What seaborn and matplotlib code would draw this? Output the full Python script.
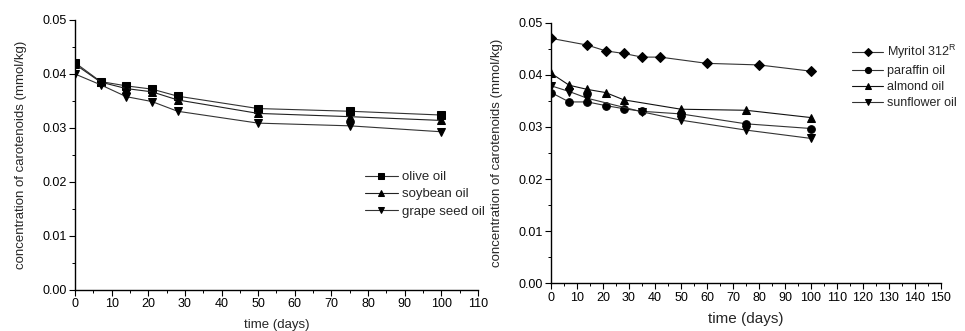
import matplotlib
matplotlib.use("Agg")
import matplotlib.pyplot as plt
import seaborn as sns
import pandas as pd
from matplotlib.ticker import MultipleLocator

sns.set_theme(style="ticks")
plt.rcParams['font.family'] = ['Liberation Sans', 'DejaVu Sans']

# ---- left panel data ----
left_days = [0, 7, 14, 21, 28, 50, 75, 100]
olive_oil = [0.0421, 0.0386, 0.0378, 0.0372, 0.0359, 0.0336, 0.0331, 0.0324]
soybean_oil = [0.0418, 0.0385, 0.0373, 0.0367, 0.0352, 0.0327, 0.0321, 0.0314]
grape_seed_oil = [0.0400, 0.0380, 0.0358, 0.0349, 0.0331, 0.0309, 0.0304, 0.0293]

# ---- right panel data ----
myritol_days = [0, 14, 21, 28, 35, 42, 60, 80, 100]
myritol = [0.0470, 0.0457, 0.0446, 0.0441, 0.0434, 0.0434, 0.0422, 0.0419, 0.0407]
paraffin_days = [0, 7, 14, 21, 28, 35, 50, 75, 100]
paraffin_oil = [0.0366, 0.0348, 0.0348, 0.0341, 0.0335, 0.0330, 0.0325, 0.0306, 0.0297]
almond_days = [0, 7, 14, 21, 28, 50, 75, 100]
almond_oil = [0.0403, 0.0380, 0.0372, 0.0366, 0.0352, 0.0334, 0.0332, 0.0318]
sunflower_days = [0, 7, 14, 35, 50, 75, 100]
sunflower_oil = [0.0379, 0.0368, 0.0355, 0.0329, 0.0313, 0.0294, 0.0278]

fig = plt.figure(figsize=(9.65, 3.31), dpi=100)
axL = fig.add_axes([0.0777, 0.1239, 0.4176, 0.8157])
axR = fig.add_axes([0.571, 0.1441, 0.404, 0.7873])

def draw(ax, days, vals, label, marker, ms, color):
    df = pd.DataFrame({"day": days, "val": vals})
    sns.lineplot(data=df, x="day", y="val", ax=ax, label=label, marker=marker,
                 markersize=ms, color=color, linewidth=0.8,
                 markeredgecolor="black", markerfacecolor="black", estimator=None)

draw(axL, left_days, olive_oil, "olive oil", "s", 5.5, "#333333")
draw(axL, left_days, soybean_oil, "soybean oil", "^", 6, "#222222")
draw(axL, left_days, grape_seed_oil, "grape seed oil", "v", 6, "#333333")

draw(axR, myritol_days, myritol, "Myritol 312$^{\\mathregular{R}}$", "D", 5, "#333333")
draw(axR, paraffin_days, paraffin_oil, "paraffin oil", "o", 5.5, "#333333")
draw(axR, almond_days, almond_oil, "almond oil", "^", 6, "#111111")
draw(axR, sunflower_days, sunflower_oil, "sunflower oil", "v", 6, "#333333")

for ax, xmax, xfs in [(axL, 110, 9.5), (axR, 150, 11)]:
    ax.set_xlim(0, xmax)
    ax.set_ylim(0, 0.05)
    ax.xaxis.set_major_locator(MultipleLocator(10))
    ax.xaxis.set_minor_locator(MultipleLocator(5))
    ax.yaxis.set_major_locator(MultipleLocator(0.01))
    ax.yaxis.set_minor_locator(MultipleLocator(0.005))
    ax.yaxis.set_major_formatter(plt.FuncFormatter(lambda v, p: f"{v:.2f}"))
    for s in ["top", "right"]:
        ax.spines[s].set_visible(False)
    for s in ["left", "bottom"]:
        ax.spines[s].set_color("black")
        ax.spines[s].set_linewidth(1.0)
    ax.tick_params(which="major", direction="out", length=4, width=0.8,
                   labelsize=9, colors="black", pad=2)
    ax.tick_params(which="minor", direction="out", length=2.5, width=0.7, colors="black")
    ax.set_xlabel("time (days)", fontsize=xfs, labelpad=6)
    ax.set_ylabel("concentration of carotenoids (mmol/kg)", fontsize=9.5, labelpad=11)
    ax.set_facecolor("white")

leg_kw = dict(frameon=False, handletextpad=0.3,
              borderaxespad=0, borderpad=0, markerscale=0.8,
              bbox_transform=fig.transFigure, loc="upper left")
axL.legend(bbox_to_anchor=(365 / 965, 1 - 171 / 331), labelspacing=0.38,
           fontsize=9.5, handlelength=2.5, **leg_kw)
axR.legend(bbox_to_anchor=(852 / 965, 1 - 43 / 331), labelspacing=0.32,
           fontsize=9, handlelength=2.5, **leg_kw)

fig.savefig("out.png", dpi=100, facecolor="white")
